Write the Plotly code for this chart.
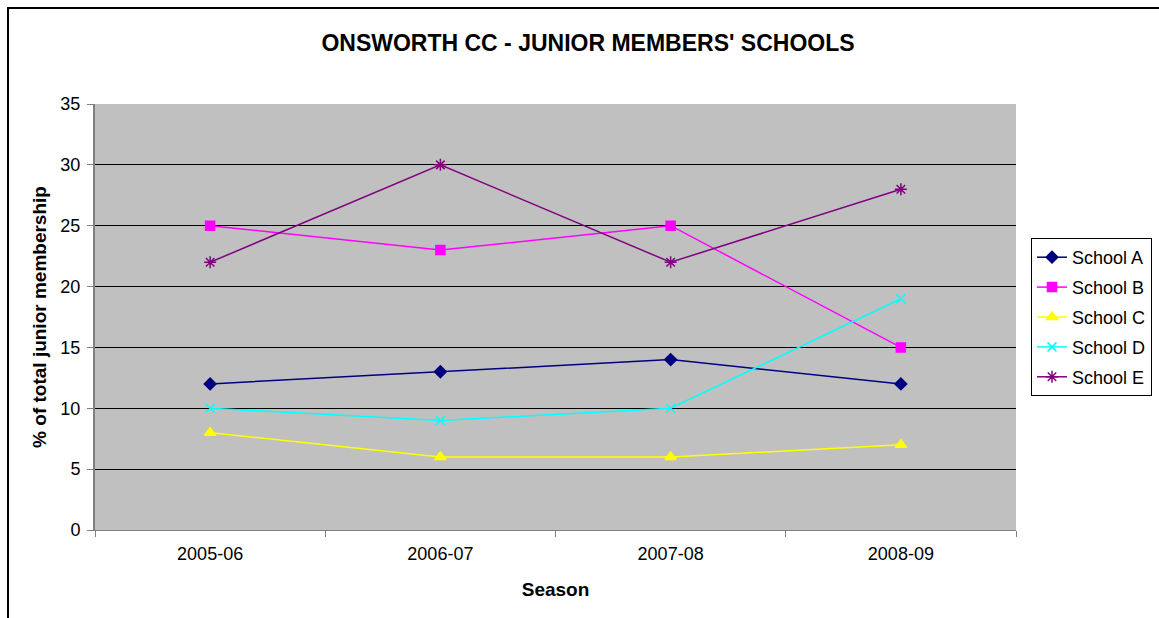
import plotly.graph_objects as go

seasons = ["2005-06", "2006-07", "2007-08", "2008-09"]
school_a = [12, 13, 14, 12]
school_b = [25, 23, 25, 15]
school_c = [8, 6, 6, 7]
school_d = [10, 9, 10, 19]
school_e = [22, 30, 22, 28]
y_ticks = [0, 5, 10, 15, 20, 25, 30, 35]

series = [
    ("School A", school_a, "#000080", "diamond", 9),
    ("School B", school_b, "#FF00FF", "square", 9),
    ("School C", school_c, "#FFFF00", "triangle-up", 10),
    ("School D", school_d, "#00FFFF", "x-thin-open", 9),
    ("School E", school_e, "#800080", "asterisk-open", 10),
]

FONT = "Liberation Sans, Arial, sans-serif"
fig = go.Figure()
for i, (name, vals, col, sym, sz) in enumerate(series):
    fig.add_trace(go.Scatter(
        x=seasons, y=vals, name=name, mode="lines+markers",
        line=dict(color=col, width=1.5),
        marker=dict(symbol=sym, size=sz, color=col, line=dict(color=col, width=1.5)),
        legendgroup=f"g{i}",
    ))

W, H = 1159, 618
L, R, T, B = 95, 1016, 104, 530
pw, ph = R - L, B - T

def px(x):
    return (x - L) / pw

def py(y):
    return (B - y) / ph

fig.update_layout(
    width=W, height=H,
    margin=dict(l=L, r=W - R, t=T, b=H - B, pad=0, autoexpand=False),
    paper_bgcolor="white",
    plot_bgcolor="#C0C0C0",
    font=dict(family=FONT, size=18, color="black"),
    title=dict(text="<b>ONSWORTH CC - JUNIOR MEMBERS' SCHOOLS</b>",
               x=px(588), xref="paper", xanchor="center",
               y=1 - 43 / H, yanchor="middle", font=dict(size=23)),
    xaxis=dict(
        type="category", tickson="boundaries", ticks="outside", ticklen=6,
        tickcolor="#808080", showline=True, linecolor="#808080", linewidth=1,
        showgrid=False, range=[-0.5, 3.5], tickfont=dict(size=18),
        ticklabelstandoff=7,
        title=dict(text="<b>Season</b>", font=dict(size=19), standoff=20),
    ),
    yaxis=dict(
        range=[0, 35], tickvals=y_ticks, ticks="outside", ticklen=6,
        tickcolor="#808080", showline=True, linecolor="#808080", linewidth=2,
        showgrid=True, gridcolor="black", gridwidth=1, zeroline=False,
        tickfont=dict(size=18), ticklabelstandoff=3,
        title=dict(text="<b>% of total junior membership</b>", font=dict(size=19), standoff=9),
    ),
    legend=dict(
        x=px(1031), y=py(238), xanchor="left", yanchor="top",
        bgcolor="white", bordercolor="black", borderwidth=1,
        font=dict(size=18), tracegroupgap=3.5,
    ),
    shapes=[
        dict(type="rect", xref="paper", yref="paper",
             x0=px(8), x1=px(1250), y0=py(8), y1=py(700),
             line=dict(color="black", width=2), layer="below"),
    ],
)

fig.write_html("out.html")
